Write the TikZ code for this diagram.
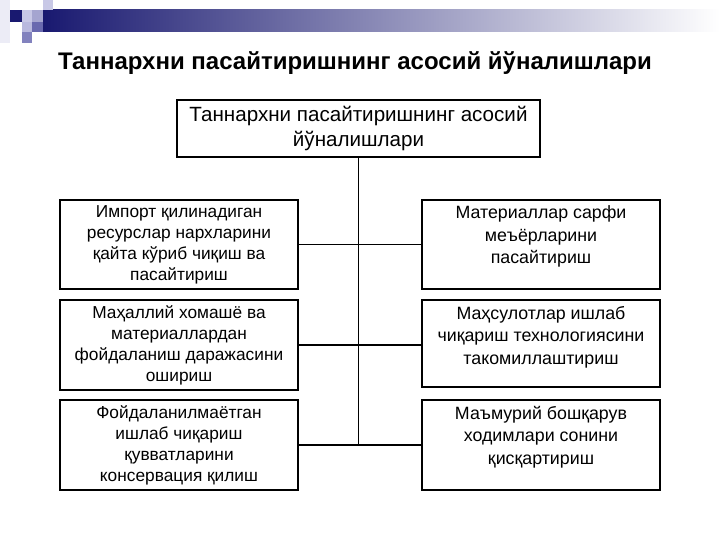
\documentclass[tikz,border=0pt]{standalone}
\usepackage{fontspec}
\setmainfont{Liberation Sans}
\definecolor{navy}{RGB}{25,25,112}
\definecolor{midgrey}{RGB}{195,195,212}
\definecolor{palesq}{RGB}{236,236,246}
\definecolor{lavsq}{RGB}{200,200,230}
\definecolor{lavsqb}{RGB}{185,185,222}
\definecolor{medsq}{RGB}{130,130,190}
\definecolor{barA}{RGB}{165,165,208}
\definecolor{barB}{RGB}{105,105,175}
\newcommand{\rtext}[2]{\parbox[c][#1][t]{236pt}{\centering\fontsize{17.8}{22.5}\selectfont\vspace*{6pt}#2\par}}
\begin{document}
\begin{tikzpicture}[x=1pt,y=-1pt,
  box/.style={draw, line width=1.1pt, inner sep=0pt, minimum width=238pt, align=center, font=\fontsize{17.3}{21}\selectfont},
  rbox/.style={draw, line width=1.1pt, inner sep=0pt, minimum width=238pt},
  conn/.style={line width=1.1pt}]
\useasboundingbox (0,0) rectangle (720,540);
% decoration
\shade[left color=navy, middle color=midgrey, right color=white] (43,10) rectangle (720,32);
\fill[palesq] (0,0) rectangle (10,43);
\fill[navy] (10,10) rectangle (22,22);
\fill[lavsq] (22,10) rectangle (32,22);
\fill[lavsqb] (22,22) rectangle (32,32);
\fill[medsq] (22,32) rectangle (32,43);
\fill[barA] (32,10) rectangle (43,22);
\fill[barB] (32,22) rectangle (43,32);
\fill[lavsq] (43,0) rectangle (53,10);
% title
\node[font=\fontsize{24}{28}\selectfont\bfseries, anchor=base, inner sep=0pt] (title) at (355,70) {Таннархни пасайтиришнинг асосий йўналишлари};
% main box
\node[draw, line width=1.1pt, inner sep=0pt, minimum width=363pt, minimum height=57pt, align=center, font=\fontsize{20.6}{25}\selectfont] (main) at (358.5,128.5) {Таннархни пасайтиришнинг асосий\\йўналишлари};
% left boxes
\node[box, minimum height=89pt] (L1) at (179,244.5) {Импорт қилинадиган\\ресурслар нархларини\\қайта кўриб чиқиш ва\\пасайтириш};
\node[box, minimum height=90pt] (L2) at (179,345) {Маҳаллий хомашё ва\\материаллардан\\фойдаланиш даражасини\\ошириш};
\node[box, minimum height=90pt] (L3) at (179,445) {Фойдаланилмаётган\\ишлаб чиқариш\\қувватларини\\консервация қилиш};
% right boxes
\node[rbox] (R1) at (541,244.5) {\rtext{89pt}{Материаллар сарфи\\меъёрларини\\пасайтириш}};
\node[rbox] (R2) at (541,343.5) {\rtext{87pt}{Маҳсулотлар ишлаб\\чиқариш технологиясини\\такомиллаштириш}};
\node[rbox] (R3) at (541,445) {\rtext{90pt}{Маъмурий бошқарув\\ходимлари сонини\\қисқартириш}};
% connectors
\draw[conn] (main.south) -- (main.south |- L3.east);
\draw[conn] (L1.east) -- (L1.east -| R1.west);
\draw[conn] (L2.east) -- (L2.east -| R2.west);
\draw[conn] (L3.east) -- (L3.east -| R3.west);
\end{tikzpicture}
\end{document}
